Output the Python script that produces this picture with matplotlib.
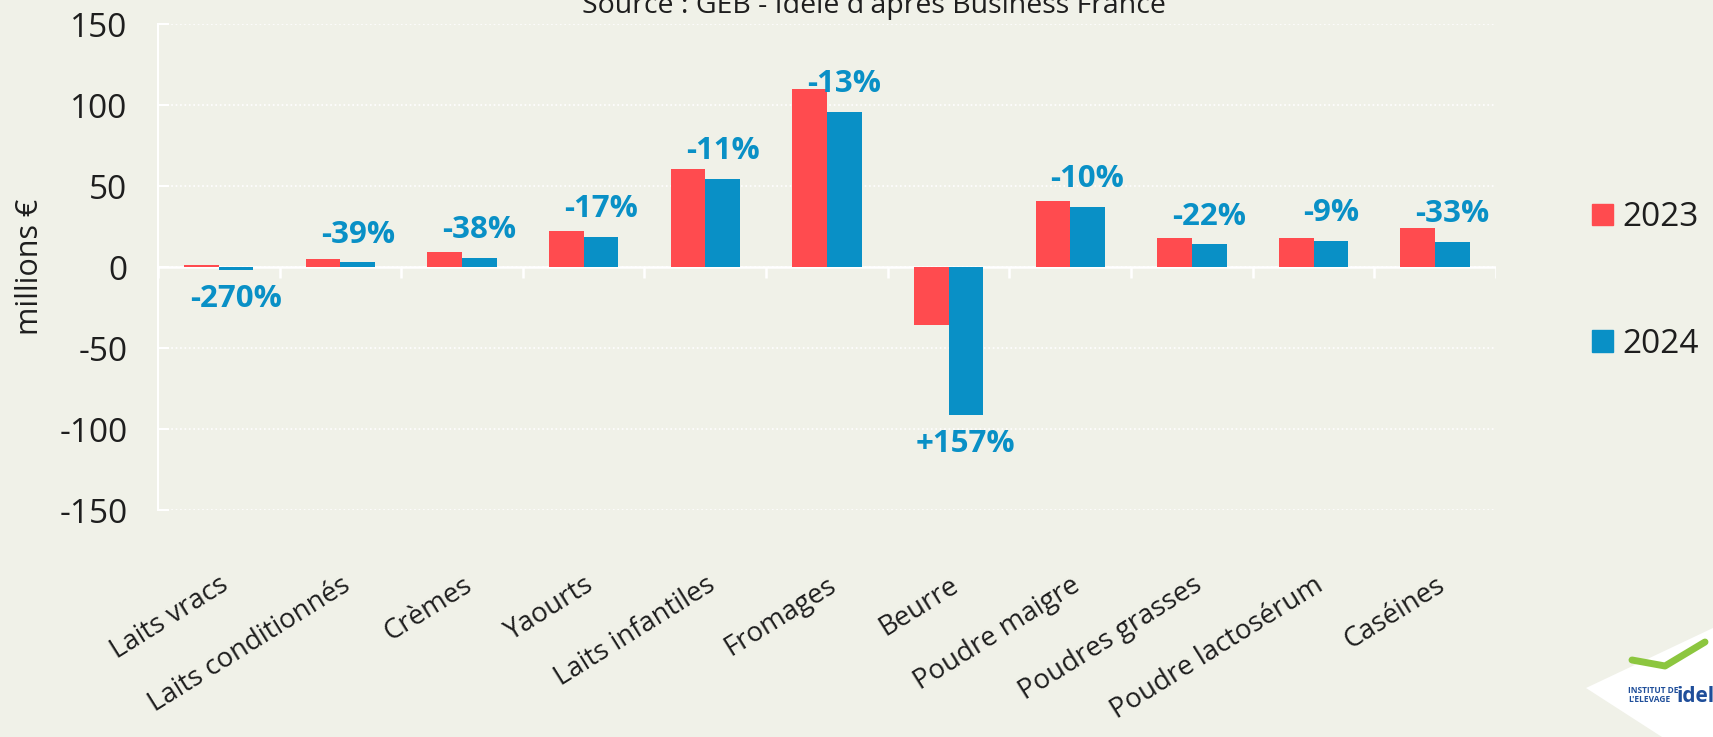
import numpy as np
import matplotlib
matplotlib.use('Agg')
import matplotlib.pyplot as plt
from matplotlib.patches import Patch, Polygon

plt.rcParams['font.family'] = ['Open Sans', 'DejaVu Sans']
plt.rcParams['axes.unicode_minus'] = False

# data (millions €)
categories = ['Laits vracs', 'Laits conditionnés', 'Crèmes', 'Yaourts', 'Laits infantiles',
              'Fromages', 'Beurre', 'Poudre maigre', 'Poudres grasses',
              'Poudre lactosérum', 'Caséines']
val_2023 = [1.0, 4.7, 9.1, 22.3, 60.8, 109.8, -35.8, 40.8, 17.8, 17.8, 23.8]
val_2024 = [-1.8, 2.9, 5.6, 18.8, 54.6, 95.6, -91.4, 37.0, 13.9, 16.3, 15.7]
pct_labels = ['-270%', '-39%', '-38%', '-17%', '-11%', '-13%', '+157%', '-10%', '-22%', '-9%', '-33%']
years = ['2023', '2024']

bg = '#F0F1E8'
red = '#FF4B4F'
blue = '#0990C6'
txt = '#1E1E1E'

fig = plt.figure(figsize=(17.13, 7.37), dpi=100, facecolor=bg)
ax = fig.add_axes([0.0922, 0.308, 0.7811, 0.6594])
ax.set_facecolor(bg)

x = np.arange(len(categories))
w = 0.285
ax.bar(x - w / 2, val_2023, w, color=red, zorder=3)
ax.bar(x + w / 2, val_2024, w, color=blue, zorder=3)

# percent labels over the 2024 bars
for xi, v, lab in zip(x, val_2024, pct_labels):
    off = 20 if v >= 0 else -21
    ax.annotate(lab, (xi + w / 2, v), xytext=(0, off), textcoords='offset points',
                ha='center', va='center', color=blue, fontsize=22.5, fontweight='bold', zorder=4)

ax.set_xlim(-0.5, len(categories) - 0.5)
ax.set_ylim(-150, 150)
ax.set_yticks(np.arange(-150, 151, 50))
ax.tick_params(axis='y', direction='in', length=8, color='white', width=1.5,
               labelsize=24, labelcolor=txt, pad=22)
ax.yaxis.grid(True, color='white', linestyle=':', linewidth=1.2, zorder=0)

ax.set_xticks(x)
ax.set_xticklabels(categories, rotation=32, ha='right', rotation_mode='anchor',
                   fontsize=19.8, color=txt)
ax.tick_params(axis='x', length=0, pad=44)

for s in ['top', 'right', 'bottom']:
    ax.spines[s].set_visible(False)
ax.spines['left'].set_color('white')
ax.spines['left'].set_linewidth(1.5)

# zero line with category separator ticks
ax.axhline(0, color='white', lw=1.8, zorder=2)
ax.vlines(np.arange(len(categories) + 1) - 0.5, -7, 0, color='white', lw=1.8, zorder=2)

ax.set_ylabel('millions €', fontsize=22, color=txt, labelpad=10)

fig.text(0.510, 1 - 12.5 / 737, "Source : GEB - Idele d'après Business France",
         ha='center', va='baseline', fontsize=20.5, color=txt)

handles = [Patch(color=red), Patch(color=blue)]
fig.legend(handles, years, loc='center left', bbox_to_anchor=(1592 / 1713, 1 - 281 / 737),
           frameon=False, fontsize=24, labelspacing=2.8, handlelength=0.62, handleheight=0.62,
           handletextpad=0.3, borderpad=0, borderaxespad=0, labelcolor=txt)

# logo corner (decoration)
fig.patches.append(Polygon([[1586 / 1713, 1 - 688 / 737], [1713 / 1713, 1 - 628 / 737],
                            [1713 / 1713, 0], [1662 / 1713, 0]],
                           closed=True, transform=fig.transFigure, facecolor='white',
                           edgecolor='none', joinstyle='round'))
fig.text(1628 / 1713, 1 - 695 / 737, "INSTITUT DE\nL'ELEVAGE", fontsize=6, fontweight='bold',
         color='#1F4E9A', ha='left', va='center', linespacing=0.9)
fig.text(1676 / 1713, 1 - 697 / 737, 'idel', fontsize=15, fontweight='bold',
         color='#1F4E9A', ha='left', va='center')
fig.lines.append(plt.Line2D([1632 / 1713, 1665 / 1713, 1705 / 1713],
                            [1 - 660 / 737, 1 - 666 / 737, 1 - 642 / 737],
                            transform=fig.transFigure, color='#8CC63F', lw=5,
                            solid_capstyle='round'))

fig.savefig('out.png', dpi=100, facecolor=bg)
